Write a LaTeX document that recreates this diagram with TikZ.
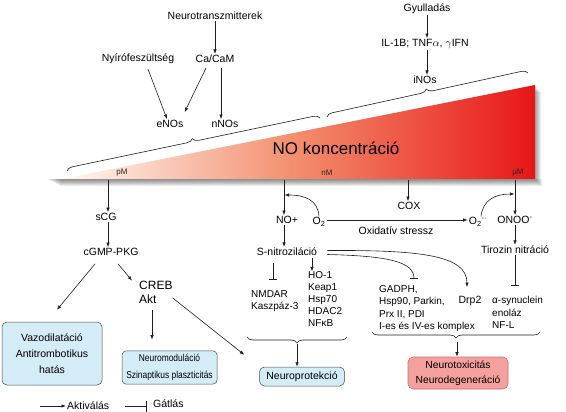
\documentclass[tikz,border=0pt]{standalone}
\usepackage{fontspec}
\setmainfont{Liberation Sans}
\newfontfamily\narrowsans[FakeStretch=0.84]{Liberation Sans}
\usetikzlibrary{arrows.meta,decorations.pathreplacing}
\definecolor{lnc}{RGB}{30,30,30}
\definecolor{lblue}{RGB}{212,236,246}
\definecolor{pinkf}{RGB}{244,160,158}
\definecolor{pinkd}{RGB}{205,110,110}
\definecolor{triA}{RGB}{255,250,244}
\definecolor{triB}{RGB}{243,140,108}
\definecolor{triC}{RGB}{232,22,22}
\begin{document}
\begin{tikzpicture}[x=1pt,y=-1pt,
 lbl/.style={font=\fontsize{10.5}{12}\selectfont,inner sep=1pt,text=black},
 lst/.style={font=\fontsize{10}{12.2}\selectfont,inner sep=0pt,align=left,anchor=west},
 act/.style={draw=lnc,line width=0.6pt,-{Latex[length=4.5pt,width=3.4pt]}},
 inh/.style={draw=lnc,line width=0.6pt,-{Bar[width=8pt,line width=0.6pt]}},
 brc/.style={draw=lnc,line width=0.6pt,decorate,decoration={brace,amplitude=6pt}},
 conc/.style={font=\fontsize{8}{9}\selectfont,text=black!85,inner sep=0pt},
 bbox/.style={draw=black!70,line width=0.5pt,fill=lblue,rounded corners=5pt,align=center},
]
\useasboundingbox (0,0) rectangle (566,412);

% ---------- top sources
\node[lbl] (nt) at (215,16) {Neurotranszmitterek};
\node[lbl] (nyi) at (138,59) {Nyírófeszültség};
\node[lbl] (ca) at (215,59) {Ca/CaM};
\node[lbl] (enos) at (170,124) {eNOs};
\node[lbl] (nnos) at (225,124) {nNOs};
\draw[act] (nt) -- (ca);
\draw[act] ([xshift=10pt,yshift=-4pt]nyi.south) -- ([xshift=-3pt]enos.north);
\draw[act] ([xshift=-9pt,yshift=-4pt]ca.south) -- ([yshift=7pt]enos.north east);
\draw[act] ([xshift=6pt,yshift=-4pt]ca.south) -- ([xshift=-4pt]nnos.north);

\node[lbl] (gy) at (427,9) {Gyulladás};
\node[lbl] (il) at (425,44) {IL-1B; TNF$\alpha$, $\gamma$IFN};
\node[lbl] (inos) at (425,80) {iNOs};
\draw[act] (gy.south) -- (gy.south |- il.north);
\draw[act] (gy.south |- il.south) -- (gy.south |- inos.north);

\draw[brc] (67,171) -- (320,118);
\draw[brc] (327,117) -- (528,73);

% ---------- concentration wedge
\foreach \d in {1,...,7}
  \fill[black,opacity=0.08] (46+2*\d,179) rectangle (535+\d,179+\d);
\foreach \d in {1,...,6}
  \fill[black,opacity=0.07] (535,86+\d) rectangle (535+\d,179);
\shade[left color=triA,right color=triC,middle color=triB] (62,179) -- (535,85) -- (535,179) -- cycle;
\node[font=\fontsize{17}{18}\selectfont] (noc) at (336,148) {NO koncentráció};
\node[conc] (pm) at (122,173) {pM};
\node[conc] (nm) at (327,173) {nM};
\node[conc] (um) at (518,173) {µM};

% ---------- left branch
\coordinate (pmfoot) at (108,180);
\node[lbl] (scg) at (106,217) {sCG};
\node[lbl] (cgmp) at (111,252) {cGMP-PKG};
\draw[act] (pmfoot) -- (pmfoot |- scg.north);
\draw[act] (pmfoot |- scg.south) -- (pmfoot |- cgmp.north);
\node[font=\fontsize{12}{14}\selectfont,align=left,anchor=west,inner sep=0pt] (creb) at (139,292) {CREB\\Akt};
\node[bbox,minimum width=100pt,minimum height=63pt,font=\fontsize{10.5}{16}\selectfont] (vazo) at (52,353.5) {Vazodilatáció\\Antitrombotikus\\hatás};
\node[bbox,rounded corners=4pt,minimum width=95pt,minimum height=31pt,font=\narrowsans\fontsize{10}{17}\selectfont] (nmod) at (169.5,367.5) {Neuromoduláció\\Szinaptikus plaszticitás};
\node[bbox,minimum width=85pt,minimum height=19pt,font=\fontsize{10.5}{12}\selectfont] (npro) at (302,376.5) {Neuroprotekció};
\draw[act] ([xshift=-16pt,yshift=-7pt]cgmp.south) -- ([xshift=5pt,yshift=12pt]vazo.north);
\draw[act] ([xshift=7pt,yshift=-7pt]cgmp.south) -- ([xshift=-7pt]creb.north west);
\draw[act] ([xshift=13pt,yshift=-7pt]creb.south west) -- ([xshift=-17.5pt,yshift=11pt]nmod.north);
\draw[act] ([yshift=-6pt]creb.east) -- ([xshift=-15pt,yshift=12pt]npro.north west);

% ---------- nM branch
\coordinate (nmfoot) at (284,180);
\coordinate (nmhook) at (284.5,195);
\node[lbl] (nop) at (287,220) {NO+};
\node[lbl] (o2) at (319,222) {O\textsubscript{2}};
\node[lbl] (snit) at (287,252) {S-nitroziláció};
\draw[act] (nmfoot) -- (nmfoot |- nop.north);
\draw[act] (nmfoot |- nop.south) -- (nmfoot |- snit.north);
\draw[act] (o2.north) .. controls (318,200) and (305,195) .. (nmhook);

\node[lbl] (o2m) at (478,222) {O\textsubscript{2}\textsuperscript{-·}};
\draw[act] ([yshift=2pt]o2.east) -- ([yshift=2pt]o2.east -| o2m.west);
\node[lbl] (ox) at (396,231) {Oxidatív stressz};

\coordinate (coxfoot) at (408,180);
\node[lbl] (cox) at (409,206) {COX};
\draw[act] (coxfoot) -- (coxfoot |- cox.north);

% ---------- µM branch
\coordinate (umfoot) at (515,180);
\coordinate (umhook) at (514.5,194);
\node[lbl] (onoo) at (515,220) {ONOO\textsuperscript{-}};
\node[lbl] (tir) at (515,250) {Tirozin nitráció};
\draw[act] (umfoot) -- (umfoot |- onoo.north);
\draw[act] ([xshift=3pt]o2m.north) .. controls (483,200) and (495,194) .. (umhook);
\draw[act] (umfoot |- onoo.south) -- (umfoot |- tir.north);

% ---------- targets
\node[lst,font=\fontsize{10}{12}\selectfont] (nmda) at (251,301) {NMDAR\\Kaszpáz-3};
\node[lst,font=\fontsize{10}{12}\selectfont] (ho) at (308,299) {HO-1\\Keap1\\Hsp70\\HDAC2\\NFκB};
\node[lst,font=\fontsize{10}{12.3}\selectfont] (gad) at (379,308.6) {GADPH,\\Hsp90, Parkin,\\Prx II, PDI\\I-es és IV-es komplex};
\node[lbl] (drp) at (470,301) {Drp2};
\node[lst,font=\fontsize{10}{12.5}\selectfont] (syn) at (492,312.5) {α-synuclein\\enoláz\\NF-L};

\coordinate (nmdabar) at (273,280);
\coordinate (gadbar) at (414,279);
\coordinate (synbar) at (515,286);
\draw[inh] ([xshift=-14pt,yshift=-6pt]snit.south) -- (nmdabar);
\draw[act] ([xshift=25pt,yshift=-1pt]snit.south) -- ([xshift=4pt]ho.north west);
\draw[act] ([xshift=9pt,yshift=1.5pt]snit.east) .. controls (420,250) and (467,255) .. ([xshift=-3pt,yshift=8pt]drp.north);
\draw[inh] ([xshift=9pt,yshift=-2.5pt]snit.east) .. controls (390,256) and (414,262) .. (gadbar);
\draw[inh] (umfoot |- tir.south) -- (synbar);

% ---------- outcome braces
\node[draw=pinkd,fill=pinkf,rounded corners=5pt,minimum width=100pt,minimum height=32pt,align=center,font=\fontsize{10.3}{15}\selectfont,line width=0.6pt] (ntox) at (458,373) {Neurotoxicitás\\Neurodegeneráció};
\coordinate (npbrace) at (297,344);
\coordinate (ntbrace) at (457,342);
\draw[brc] (347,337) -- (247,337);
\draw[brc] (540,332) -- (372,332);
\draw[act] (npbrace) -- (npbrace |- npro.north);
\draw[act] (ntbrace) -- (ntbrace |- ntox.north);

% ---------- legend
\coordinate (la) at (40,406);
\node[lbl,anchor=west] (akt) at (66,406) {Aktiválás};
\draw[act] (la) -- (akt.west);
\coordinate (lg) at (125,406);
\coordinate (lgend) at (147,406);
\node[lbl,anchor=west] (gat) at (152,404) {Gátlás};
\draw[draw=lnc,line width=0.6pt,-{Bar[width=11pt,line width=0.6pt]}] (lg) -- (lgend);
\end{tikzpicture}
\end{document}
